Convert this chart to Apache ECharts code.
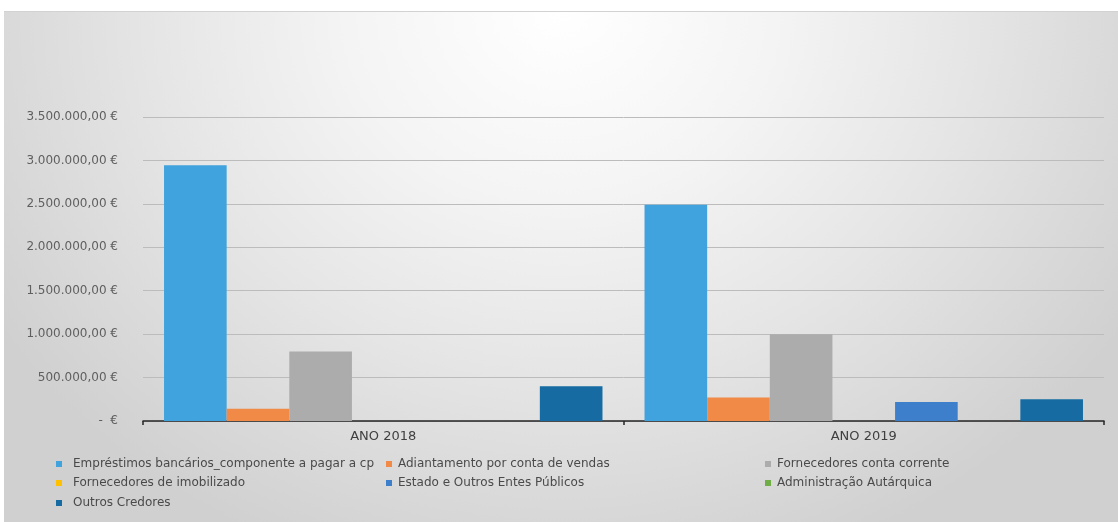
<!DOCTYPE html>
<html>
<head>
<meta charset="utf-8">
<script src="https://cdn.jsdelivr.net/npm/echarts@6/dist/echarts.min.js"></script>
<style>
  html, body { margin: 0; padding: 0; background: #ffffff; width: 1118px; height: 522px; overflow: hidden; }
  #frame {
    position: absolute; left: 4px; top: 11px; width: 1114px; height: 511px;
    border-top: 1px solid #d2d2d2;
    background: radial-gradient(ellipse 60% 115% at 50% 0%, #ffffff 0%, #f4f4f4 32%, #e5e5e5 62%, #d0d0d0 100%);
  }
  #chart { position: absolute; left: 0; top: 0; width: 1114px; height: 511px; }
</style>
</head>
<body>
<div id="frame"><div id="chart"></div></div>
<script>
// Passivo por rubrica, 2018 vs 2019 (euros)
const categories = ['ANO 2018', 'ANO 2019'];

const seriesNames = [
  'Empréstimos bancários_componente a pagar a cp',
  'Adiantamento por conta de vendas',
  'Fornecedores conta corrente',
  'Fornecedores de imobilizado',
  'Estado e Outros Entes Públicos',
  'Administração Autárquica',
  'Outros Credores'
];

const emprestimos      = [2945000, 2490000];
const adiantamentos    = [140000, 270000];
const fornecedoresCC   = [800000, 1000000];
const fornecedoresImob = [0, 0];
const estado           = [0, 220000];
const administracao    = [0, 0];
const outrosCredores   = [400000, 250000];

const yTicks = [0, 500000, 1000000, 1500000, 2000000, 2500000, 3000000, 3500000];

const palette = ['#41a3dd', '#f08a46', '#acacac', '#ffc000', '#3d7fcb', '#70ad47', '#166ca2'];
const seriesValues = [emprestimos, adiantamentos, fornecedoresCC, fornecedoresImob, estado, administracao, outrosCredores];

function euro(v) {
  if (v === 0) return '-  €';
  const s = Math.round(v).toString().replace(/\B(?=(\d{3})+(?!\d))/g, '.');
  return s + ',00 €';
}

const FONT = 'DejaVu Sans';

// legend laid out in three columns, one entry per component
const legendSpots = [
  { left: 52, top: 446, pad: 6 },
  { left: 382, top: 446, pad: 1 },
  { left: 761, top: 446, pad: 1 },
  { left: 52, top: 465, pad: 6 },
  { left: 382, top: 465, pad: 1 },
  { left: 761, top: 465, pad: 1 },
  { left: 52, top: 485, pad: 6 }
];

const legends = seriesNames.map((name, i) => ({
  data: [name],
  left: legendSpots[i].left,
  top: legendSpots[i].top,
  icon: 'rect',
  itemWidth: 6,
  itemHeight: 6,
  selectedMode: false,
  padding: 0,
  textStyle: { fontFamily: FONT, fontSize: 12, color: '#4a4a4a', padding: [0, 0, 0, legendSpots[i].pad] }
}));

const chart = echarts.init(document.getElementById('chart'), null, { renderer: 'canvas' });
chart.setOption({
  animation: false,
  backgroundColor: 'transparent',
  color: palette,
  grid: { left: 139, right: 14, top: 105, bottom: 102 },
  legend: legends,
  xAxis: {
    type: 'category',
    data: categories,
    axisLine: { lineStyle: { color: '#262626', width: 1.5 } },
    axisTick: { show: true, length: 4, lineStyle: { color: '#262626', width: 1.5 } },
    axisLabel: { fontFamily: FONT, fontSize: 13, color: '#404040', margin: 9 }
  },
  yAxis: {
    type: 'value',
    min: yTicks[0],
    max: yTicks[yTicks.length - 1],
    interval: yTicks[1] - yTicks[0],
    axisLine: { show: false },
    axisTick: { show: false },
    splitLine: { lineStyle: { color: '#bcbcbc', width: 1 } },
    axisLabel: { fontFamily: FONT, fontSize: 12, color: '#5f5f5f', margin: 25, formatter: euro }
  },
  series: seriesNames.map((name, i) => ({
    name: name,
    type: 'bar',
    data: seriesValues[i],
    barGap: '0%',
    barCategoryGap: '8.75%',
    itemStyle: { color: palette[i] }
  }))
});
</script>
</body>
</html>
